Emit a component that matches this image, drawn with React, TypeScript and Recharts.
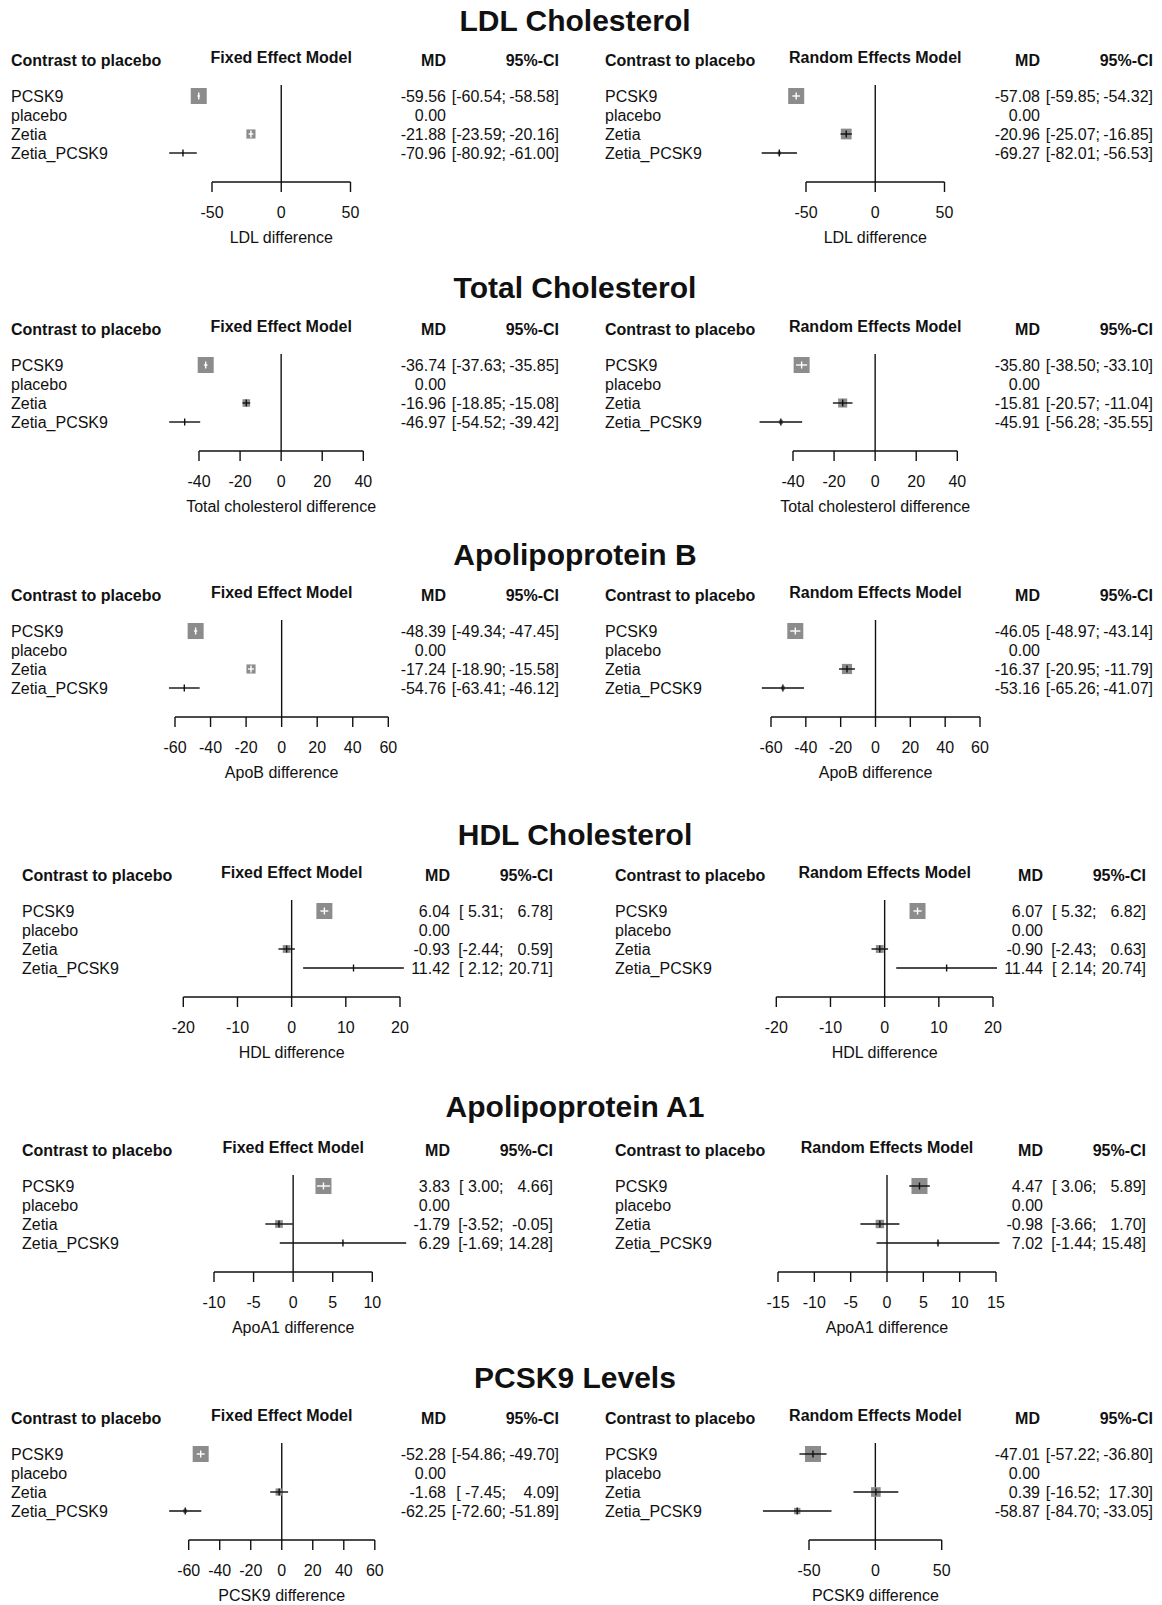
import React from "react";
import { ComposedChart, Scatter, XAxis, YAxis, ReferenceLine } from "recharts";

const FONT = '"Liberation Sans", Arial, Helvetica, sans-serif';
const INK = "#111";
const BOX_FILL = "#8c8c8c";

const CONTRASTS = ["PCSK9", "placebo", "Zetia", "Zetia_PCSK9"];

// [MD, lower, upper] for each contrast, in CONTRASTS order
type Row = [number, number | null, number | null];

const LDL_FIXED: Row[] = [[-59.56, -60.54, -58.58], [0, null, null], [-21.88, -23.59, -20.16], [-70.96, -80.92, -61.0]];
const LDL_RANDOM: Row[] = [[-57.08, -59.85, -54.32], [0, null, null], [-20.96, -25.07, -16.85], [-69.27, -82.01, -56.53]];
const TOTAL_FIXED: Row[] = [[-36.74, -37.63, -35.85], [0, null, null], [-16.96, -18.85, -15.08], [-46.97, -54.52, -39.42]];
const TOTAL_RANDOM: Row[] = [[-35.8, -38.5, -33.1], [0, null, null], [-15.81, -20.57, -11.04], [-45.91, -56.28, -35.55]];
const APOB_FIXED: Row[] = [[-48.39, -49.34, -47.45], [0, null, null], [-17.24, -18.9, -15.58], [-54.76, -63.41, -46.12]];
const APOB_RANDOM: Row[] = [[-46.05, -48.97, -43.14], [0, null, null], [-16.37, -20.95, -11.79], [-53.16, -65.26, -41.07]];
const HDL_FIXED: Row[] = [[6.04, 5.31, 6.78], [0, null, null], [-0.93, -2.44, 0.59], [11.42, 2.12, 20.71]];
const HDL_RANDOM: Row[] = [[6.07, 5.32, 6.82], [0, null, null], [-0.9, -2.43, 0.63], [11.44, 2.14, 20.74]];
const APOA1_FIXED: Row[] = [[3.83, 3.0, 4.66], [0, null, null], [-1.79, -3.52, -0.05], [6.29, -1.69, 14.28]];
const APOA1_RANDOM: Row[] = [[4.47, 3.06, 5.89], [0, null, null], [-0.98, -3.66, 1.7], [7.02, -1.44, 15.48]];
const PCSK9_FIXED: Row[] = [[-52.28, -54.86, -49.7], [0, null, null], [-1.68, -7.45, 4.09], [-62.25, -72.6, -51.89]];
const PCSK9_RANDOM: Row[] = [[-47.01, -57.22, -36.8], [0, null, null], [0.39, -16.52, 17.3], [-58.87, -84.7, -33.05]];

const LDL_TICKS = [-50, 0, 50];
const TOTAL_TICKS = [-40, -20, 0, 20, 40];
const APOB_TICKS = [-60, -40, -20, 0, 20, 40, 60];
const HDL_TICKS = [-20, -10, 0, 10, 20];
const APOA1_FIXED_TICKS = [-10, -5, 0, 5, 10];
const APOA1_RANDOM_TICKS = [-15, -10, -5, 0, 5, 10, 15];
const PCSK9_FIXED_TICKS = [-60, -40, -20, 0, 20, 40, 60];
const PCSK9_RANDOM_TICKS = [-50, 0, 50];

// column layouts (x positions inside a panel)
const COLS = {
  A: { offset: 594, labelX: 11, mdRight: 446, semiX: 506, ciRight: 559 },
  B: { offset: 593, labelX: 22, mdRight: 450, semiX: 503.5, ciRight: 553 },
};

const SECTIONS = [
  {
    title: "LDL Cholesterol", titleY: 20.5, axisY: 182, cols: COLS.A, xLabel: "LDL difference",
    fixed: { rows: LDL_FIXED, ticks: LDL_TICKS, span: [212, 350.5] },
    random: { rows: LDL_RANDOM, ticks: LDL_TICKS, span: [212, 350.5] },
  },
  {
    title: "Total Cholesterol", titleY: 287, axisY: 451, cols: COLS.A, xLabel: "Total cholesterol difference",
    fixed: { rows: TOTAL_FIXED, ticks: TOTAL_TICKS, span: [199, 363.3] },
    random: { rows: TOTAL_RANDOM, ticks: TOTAL_TICKS, span: [199, 363.3] },
  },
  {
    title: "Apolipoprotein B", titleY: 554, axisY: 717, cols: COLS.A, xLabel: "ApoB difference",
    fixed: { rows: APOB_FIXED, ticks: APOB_TICKS, span: [175, 388.3] },
    random: { rows: APOB_RANDOM, ticks: APOB_TICKS, span: [177, 386] },
  },
  {
    title: "HDL Cholesterol", titleY: 834, axisY: 997, cols: COLS.B, xLabel: "HDL difference",
    fixed: { rows: HDL_FIXED, ticks: HDL_TICKS, span: [183.3, 400] },
    random: { rows: HDL_RANDOM, ticks: HDL_TICKS, span: [183.3, 400] },
  },
  {
    title: "Apolipoprotein A1", titleY: 1106, axisY: 1272, cols: COLS.B, xLabel: "ApoA1 difference",
    fixed: { rows: APOA1_FIXED, ticks: APOA1_FIXED_TICKS, span: [214, 372.3] },
    random: { rows: APOA1_RANDOM, ticks: APOA1_RANDOM_TICKS, span: [185, 403] },
  },
  {
    title: "PCSK9 Levels", titleY: 1377, axisY: 1540, cols: COLS.A, xLabel: "PCSK9 difference",
    fixed: { rows: PCSK9_FIXED, ticks: PCSK9_FIXED_TICKS, span: [188.7, 374.8] },
    random: { rows: PCSK9_RANDOM, ticks: PCSK9_RANDOM_TICKS, span: [215, 347.7] },
  },
];

const PANEL_W = 568;
const PLOT_LEFT = 150;
const PLOT_RIGHT = 420;
const PLOT_TOP = 16;
const ROW_PX = 19;
const TOP_PAD = 11;
const BOTTOM_PAD = 29;
const PLOT_H = 3 * ROW_PX + TOP_PAD + BOTTOM_PAD;
const X_AXIS_H = 60;
const CHART_H = PLOT_TOP + PLOT_H + X_AXIS_H;
const Y_DOMAIN = [1 - TOP_PAD / ROW_PX, 4 + BOTTOM_PAD / ROW_PX];
const BOX_MAX = 16;
const TICK_HALF = 3.5;
const LINE_W = 1.4;
const TITLE_X = 575;

const fmt = (v: number) => v.toFixed(2);

const scaleOf = (m: any) => {
  const t0 = m.ticks[0];
  const t1 = m.ticks[m.ticks.length - 1];
  const ppu = (m.span[1] - m.span[0]) / (t1 - t0);
  const zero = m.span[0] - t0 * ppu;
  return { t0, t1, ppu, zero };
};

const Panel = ({ model, cols, left, axisY }: any) => {
  const { t0, t1, ppu } = scaleOf(model);
  const xDomain = [t0 - (model.span[0] - PLOT_LEFT) / ppu, t1 + (PLOT_RIGHT - model.span[1]) / ppu];

  const est = model.rows
    .map((r: Row, i: number) => ({ name: CONTRASTS[i], y: i + 1, md: r[0], lo: r[1], hi: r[2] }))
    .filter((r: any) => r.lo != null);
  const minW = Math.min(...est.map((r: any) => r.hi - r.lo));
  const rows = est.map((r: any) => {
    const box = (BOX_MAX * minW) / (r.hi - r.lo);
    const inside = (r.hi - r.lo) * ppu <= box;
    return { ...r, x: r.md, box, color: inside ? "#fff" : INK };
  });
  const padW = Math.max(...est.map((r: any) => fmt(r.lo).length));

  const RowTick = (p: any) => {
    const i = Math.round(p.payload.value) - 1;
    const [md, lo, hi] = model.rows[i] as Row;
    return (
      <g fontSize={16} fill={INK} style={{ whiteSpace: "pre" }}>
        <text x={cols.labelX} y={p.y} dy="0.35em">{CONTRASTS[i]}</text>
        <text x={cols.mdRight} y={p.y} dy="0.35em" textAnchor="end">{fmt(md)}</text>
        {lo != null && hi != null && (
          <>
            <text x={cols.semiX} y={p.y} dy="0.35em" textAnchor="end">{`[${fmt(lo).padStart(padW)};`}</text>
            <text x={cols.ciRight} y={p.y} dy="0.35em" textAnchor="end">{`${fmt(hi)}]`}</text>
          </>
        )}
      </g>
    );
  };

  return (
    <div style={{ position: "absolute", left, top: axisY - PLOT_TOP - PLOT_H }}>
      <ComposedChart
        width={PANEL_W}
        height={CHART_H}
        margin={{ top: PLOT_TOP, right: PANEL_W - PLOT_RIGHT, bottom: 0, left: 0 }}
      >
        <XAxis
          type="number"
          dataKey="x"
          domain={xDomain}
          allowDataOverflow
          ticks={model.ticks}
          interval={0}
          axisLine={false}
          tickSize={10}
          tickMargin={15}
          height={X_AXIS_H}
          stroke={INK}
          tickLine={{ stroke: INK, strokeWidth: LINE_W }}
          tick={{ fill: INK, fontSize: 16 }}
        />
        <YAxis
          type="number"
          dataKey="y"
          domain={Y_DOMAIN}
          allowDataOverflow
          reversed
          ticks={[1, 2, 3, 4]}
          interval={0}
          width={PLOT_LEFT}
          axisLine={false}
          tickLine={false}
          tick={(p: any) => <RowTick {...p} />}
        />
        <ReferenceLine x={0} stroke={INK} strokeWidth={LINE_W} ifOverflow="visible" />
        <ReferenceLine
          segment={[{ x: t0, y: Y_DOMAIN[1] }, { x: t1, y: Y_DOMAIN[1] }]}
          stroke={INK}
          strokeWidth={LINE_W}
          ifOverflow="visible"
        />
        <Scatter
          data={rows}
          isAnimationActive={false}
          shape={(p: any) => {
            const b = p.payload.box;
            return <rect x={p.cx - b / 2} y={p.cy - b / 2} width={b} height={b} fill={BOX_FILL} />;
          }}
        />
        {rows.map((r: any) => (
          <Scatter
            key={r.name}
            data={[{ x: r.lo, y: r.y }, { x: r.hi, y: r.y }]}
            isAnimationActive={false}
            line={{ stroke: r.color, strokeWidth: LINE_W }}
            shape={() => <g />}
          />
        ))}
        <Scatter
          data={rows}
          isAnimationActive={false}
          shape={(p: any) => (
            <line
              x1={p.cx}
              x2={p.cx}
              y1={p.cy - TICK_HALF}
              y2={p.cy + TICK_HALF}
              stroke={p.payload.color}
              strokeWidth={LINE_W}
            />
          )}
        />
      </ComposedChart>
    </div>
  );
};

const Headings = ({ s }: any) => {
  const c = s.cols;
  const sides = [
    { off: 0, name: "Fixed Effect Model", m: s.fixed },
    { off: c.offset, name: "Random Effects Model", m: s.random },
  ];
  return (
    <g>
      <text x={TITLE_X} y={s.titleY} dy="0.35em" textAnchor="middle" fontSize={30} fontWeight="bold">
        {s.title}
      </text>
      {sides.map((sd) => {
        const z = scaleOf(sd.m).zero + sd.off;
        return (
          <g key={sd.name} fontSize={16}>
            <text x={c.labelX + sd.off} y={s.axisY - 122} dy="0.35em" fontWeight="bold">Contrast to placebo</text>
            <text x={z} y={s.axisY - 125} dy="0.35em" textAnchor="middle" fontWeight="bold">{sd.name}</text>
            <text x={c.mdRight + sd.off} y={s.axisY - 122} dy="0.35em" textAnchor="end" fontWeight="bold">MD</text>
            <text x={c.ciRight + sd.off} y={s.axisY - 122} dy="0.35em" textAnchor="end" fontWeight="bold">95%-CI</text>
            <text x={z} y={s.axisY + 55} dy="0.35em" textAnchor="middle">{s.xLabel}</text>
          </g>
        );
      })}
    </g>
  );
};

export default function App() {
  return (
    <div
      style={{
        position: "absolute",
        left: 0,
        top: 0,
        width: 1162,
        height: 1605,
        overflow: "hidden",
        background: "#fff",
        fontFamily: FONT,
        color: INK,
      }}
    >
      {SECTIONS.map((s) => (
        <React.Fragment key={s.title}>
          <Panel model={s.fixed} cols={s.cols} left={0} axisY={s.axisY} />
          <Panel model={s.random} cols={s.cols} left={s.cols.offset} axisY={s.axisY} />
        </React.Fragment>
      ))}
      <svg
        width={1162}
        height={1605}
        style={{ position: "absolute", left: 0, top: 0, pointerEvents: "none" }}
        fontFamily={FONT}
        fill={INK}
      >
        {SECTIONS.map((s) => (
          <Headings key={s.title} s={s} />
        ))}
      </svg>
    </div>
  );
}
